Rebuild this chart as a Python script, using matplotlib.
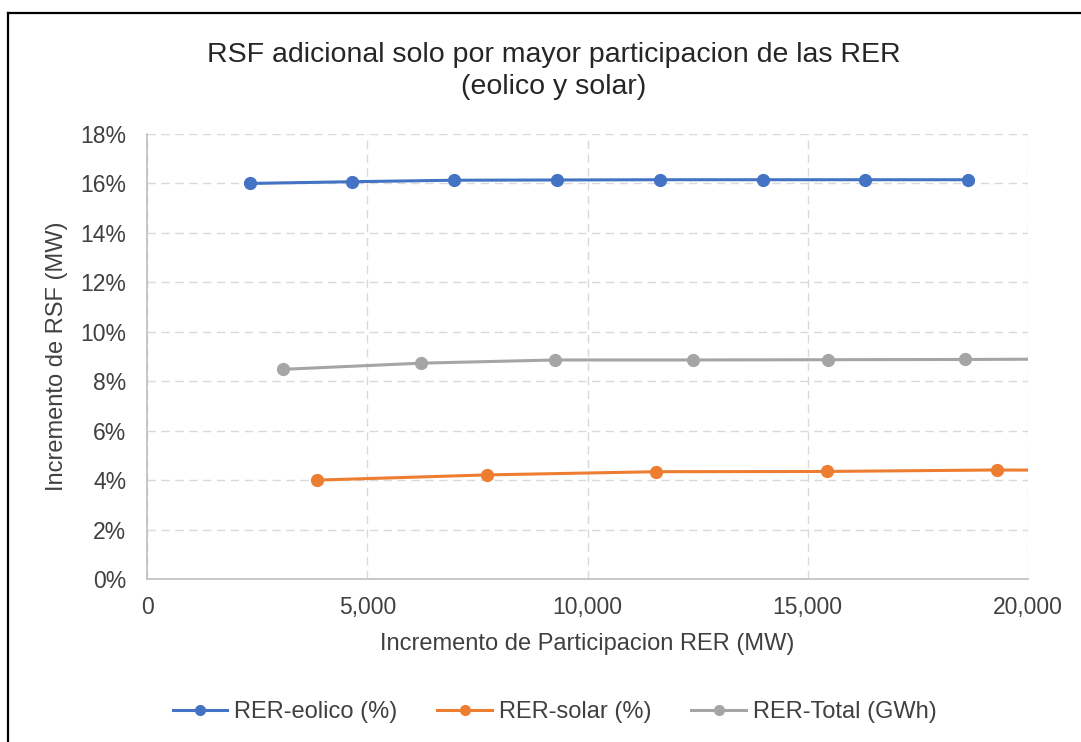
import matplotlib
matplotlib.use("Agg")
import matplotlib.pyplot as plt
from matplotlib.lines import Line2D
from matplotlib.ticker import FuncFormatter, MultipleLocator
import numpy as np

plt.rcParams['font.family'] = ['Liberation Sans', 'DejaVu Sans']

# Incremento de participacion (MW) y RSF adicional (%)
eolico_mw = [2330, 4650, 6970, 9300, 11650, 13980, 16310, 18640]
eolico_pct = [16.00, 16.07, 16.13, 16.14, 16.15, 16.15, 16.15, 16.15]

solar_mw = [3860, 7710, 11560, 15430, 19290, 23150]
solar_pct = [4.00, 4.21, 4.34, 4.35, 4.41, 4.38]

total_mw = [3080, 6210, 9270, 12390, 15470, 18570, 21680]
total_pct = [8.48, 8.73, 8.86, 8.86, 8.87, 8.88, 8.90]

labels = ['RER-eolico (%)', 'RER-solar (%)', 'RER-Total (GWh)']
colors = ['#4472C4', '#ED7D31', '#A5A5A5']

fig = plt.figure(figsize=(10.81, 7.42), dpi=100)
ax = fig.add_axes([147 / 1081, 163 / 742, 881 / 1081, 445 / 742])

series = [(eolico_mw, eolico_pct), (solar_mw, solar_pct), (total_mw, total_pct)]
for (xs, ys), lab, col in zip(series, labels, colors):
    ax.plot(xs, ys, color=col, lw=2.2, marker='o', ms=8.5, label=lab,
            solid_capstyle='round', zorder=3)

ax.set_xlim(0, 20000)
ax.set_ylim(0, 18)
ax.xaxis.set_major_locator(MultipleLocator(5000))
ax.yaxis.set_major_locator(MultipleLocator(2))
ax.xaxis.set_major_formatter(FuncFormatter(lambda v, p: f'{int(v):,}'))
ax.yaxis.set_major_formatter(FuncFormatter(lambda v, p: f'{int(v)}%'))

ax.grid(True, color='#D9D9D9', linestyle=(0, (6, 4)), linewidth=1.0, zorder=0)
for s in ['top', 'right']:
    ax.spines[s].set_visible(False)
for s in ['left', 'bottom']:
    ax.spines[s].set_color('#BFBFBF')
    ax.spines[s].set_linewidth(1.2)
ax.tick_params(axis='both', length=0, labelsize=16.5, labelcolor='#404040')
ax.tick_params(axis='y', pad=15)
ax.tick_params(axis='x', pad=12)

ax.set_xlabel('Incremento de Participacion RER (MW)', fontsize=17, color='#404040', labelpad=10)
ax.set_ylabel('Incremento de RSF (MW)', fontsize=17, color='#404040', labelpad=9)

fig.text(0.512, 1 - 71 / 742, 'RSF adicional solo por mayor participacion de las RER\n(eolico y solar)',
         ha='center', va='center', fontsize=20.5, color='#262626', linespacing=1.3)

handles = [Line2D([], [], color=c, lw=2.2, marker='o', ms=7) for c in colors]
fig.legend(handles, labels, loc='center', bbox_to_anchor=(0.513, 1 - 712 / 742), ncol=3,
           frameon=False, fontsize=17, handlelength=2.3, columnspacing=1.7,
           handletextpad=0.3, labelcolor='#404040')

# marco exterior (solo arriba e izquierda)
fig.add_artist(Line2D([8 / 1081, 1.0], [1 - 13 / 742, 1 - 13 / 742], color='black', lw=1.6,
                      transform=fig.transFigure))
fig.add_artist(Line2D([8 / 1081, 8 / 1081], [0, 1 - 13 / 742], color='black', lw=1.6,
                      transform=fig.transFigure))

fig.savefig('out.png', dpi=100, facecolor='white')
